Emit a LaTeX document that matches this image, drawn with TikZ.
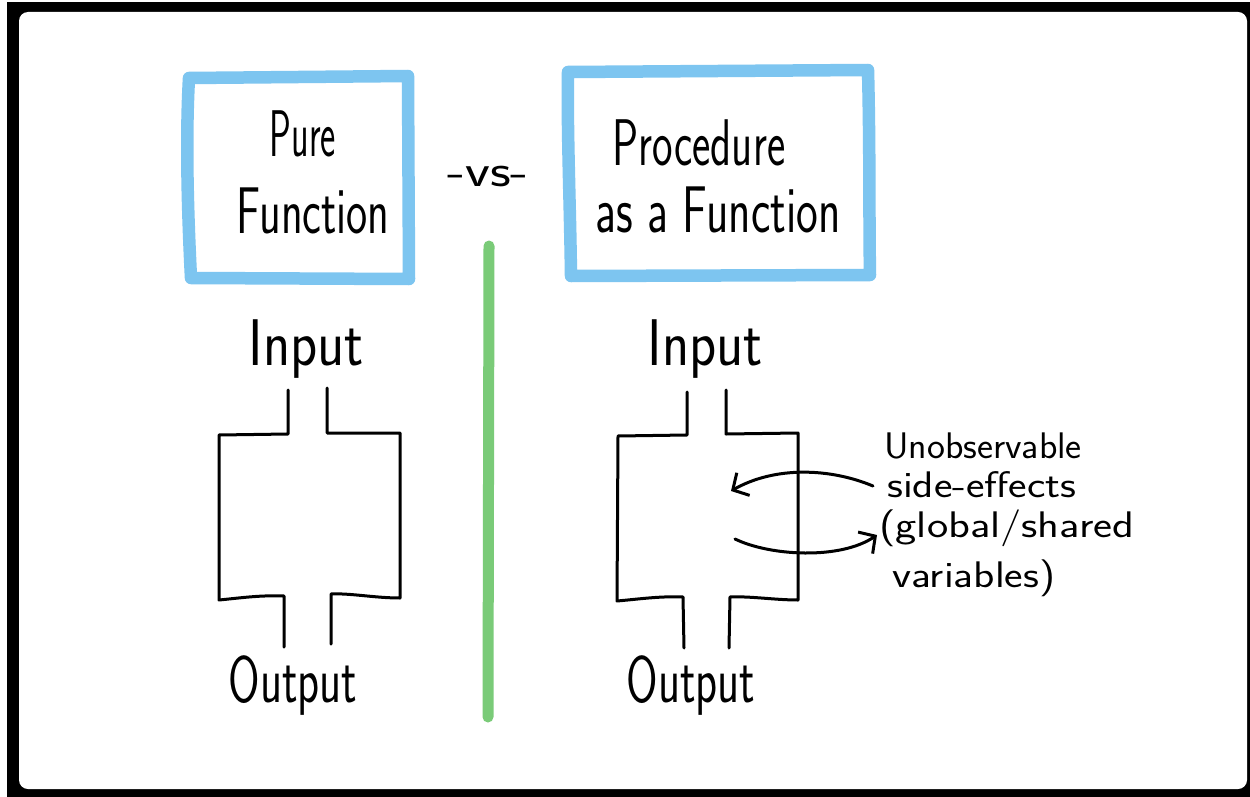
\documentclass[tikz,border=0pt]{standalone}
\usepackage{fontspec}
\usepackage{graphicx}
\usetikzlibrary{arrows.meta}
\definecolor{boxblue}{RGB}{125,197,240}
\definecolor{linegreen}{RGB}{122,203,120}
\newcommand\sqz[2]{\scalebox{#1}[1]{#2}}
\tikzset{
  hand/.style={font=\sffamily\fontsize{66}{70}\selectfont, inner sep=0pt, anchor=base},
  note/.style={font=\sffamily\fontsize{37}{41}\selectfont, inner sep=0pt, anchor=base west},
  pen/.style={line width=3pt, line join=round, line cap=round, black},
  bluebox/.style={draw=boxblue, line width=12.5pt, line join=round, line cap=round},
  sidearrow/.style={pen, -{Straight Barb[length=12pt,width=26pt,line width=3pt]}},
}
\begin{document}
\begin{tikzpicture}[x=1pt,y=-1pt]
\useasboundingbox (0,0) rectangle (1250,797);
% frame
\fill[white] (0,0) rectangle (1250,797);
\fill[black] (7,2) rectangle (1250,797);
\fill[white, rounded corners=9pt] (19,12) rectangle (1247,789);

% blue title boxes
\draw[bluebox] (189,78) -- (408,76) -- (409,279) -- (191,278) .. controls (187,200) and (186,130) .. cycle;
\draw[bluebox] (568,72) -- (868,70) .. controls (870,150) and (869,220) .. (870,275) -- (571,276) .. controls (570,200) and (567,130) .. cycle;

% titles
\node[hand] (pure) at (303,157) {\sqz{0.55}{Pure}};
\node[hand] (func) at (313,233) {\sqz{0.68}{Function}};
\node[hand, font=\sffamily\fontsize{46}{50}\selectfont] (vs) at (488,186) {\sqz{1.25}{-vs-}};
\node[hand] (proc) at (699,165) {\sqz{0.66}{Procedure}};
\node[hand] (asf) at (718,232) {\sqz{0.70}{as a Function}};

% green divider
\coordinate (gtop) at (489,246);
\coordinate (gbot) at (488,717);
\draw[linegreen, line width=11pt, line cap=round] (gtop) -- (gbot);

% left: pure function
\node[hand] (inL) at (306,365) {\sqz{0.85}{Input}};
\node[hand] (outL) at (293,702) {\sqz{0.69}{Output}};
\draw[pen] (288,390) -- (288,434) -- (219,435) -- (219,600) .. controls (240,598) and (260,595) .. (284,596) -- (284,647);
\draw[pen] (327,388) -- (327,433) -- (400,433) -- (400,598) .. controls (375,598) and (350,593) .. (331,594) -- (331,644);

% right: procedure
\node[hand] (inR) at (705,365) {\sqz{0.85}{Input}};
\node[hand] (outR) at (691,702) {\sqz{0.69}{Output}};
\draw[pen] (687,392) -- (687,435) -- (618,436) -- (617,601) .. controls (640,599) and (660,596) .. (683,597) -- (684,648);
\draw[pen] (726,390) -- (726,434) -- (798,433) -- (798,600) .. controls (775,600) and (750,596) .. (730,597) -- (729,648);

% side effects notes
\node[note] (n1) at (884,458) {\sqz{1.03}{Unobservable}};
\node[note] (n2) at (887,497) {\sqz{1.19}{side-effects}};
\node[note] (n3) at (879,537) {\sqz{1.22}{(global/shared}};
\node[note] (n4) at (892,587) {\sqz{1.19}{variables)}};

\coordinate (a1s) at (873,486);
\coordinate (a1e) at (731,491);
\coordinate (a2s) at (735,539);
\coordinate (a2e) at (877,535);
\draw[sidearrow] (a1s) .. controls (830,468) and (775,466) .. (a1e);
\draw[sidearrow] (a2s) .. controls (770,556) and (840,560) .. (a2e);
\end{tikzpicture}
\end{document}
